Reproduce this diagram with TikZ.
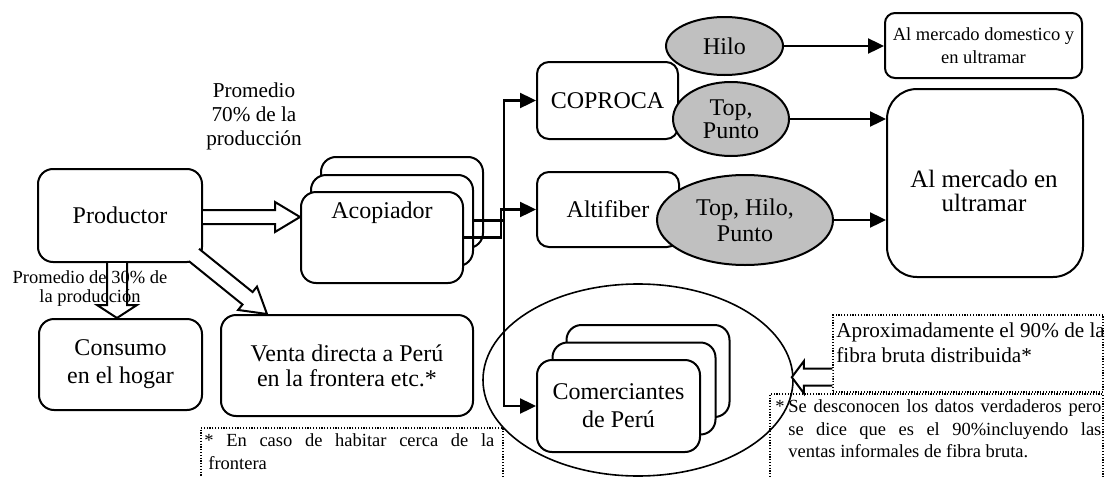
\documentclass[tikz,border=0pt]{standalone}
\usepackage{fontspec}
\setmainfont{Liberation Serif}
\usetikzlibrary{shapes.geometric,arrows.meta,calc}
\definecolor{elgray}{HTML}{C0C0C0}
\newcommand\fbig{\fontsize{12}{13.5}\selectfont}
\newcommand\fmid{\fontsize{10.6}{12}\selectfont}
\newcommand\fsmall{\fontsize{9.25}{11.5}\selectfont}
\newcommand\flbl{\fontsize{9.25}{9.5}\selectfont}
\newcommand\blockarr[5]{%
  \coordinate (ba-t) at (#1);
  \coordinate (ba-p) at (#2);
  \coordinate (ba-b) at ($(ba-p)!#5!(ba-t)$);
  \fill[white] ($(ba-t)!#3!90:(ba-p)$) -- ($(ba-b)!#3!90:(ba-p)$) -- ($(ba-b)!#4!90:(ba-p)$) -- (ba-p)
     -- ($(ba-b)!#4!-90:(ba-p)$) -- ($(ba-b)!#3!-90:(ba-p)$) -- ($(ba-t)!#3!-90:(ba-p)$) -- cycle;
  \draw[blk] ($(ba-t)!#3!90:(ba-p)$) -- ($(ba-b)!#3!90:(ba-p)$) -- ($(ba-b)!#4!90:(ba-p)$) -- (ba-p)
     -- ($(ba-b)!#4!-90:(ba-p)$) -- ($(ba-b)!#3!-90:(ba-p)$) -- ($(ba-t)!#3!-90:(ba-p)$);
}
\begin{document}
\begin{tikzpicture}[x=0.5pt,y=-0.5pt,
  rbox/.style={draw,line width=1pt,rounded corners=7.5pt,fill=white,inner sep=0pt,align=center,font=\fbig},
  gell/.style={ellipse,draw,line width=1pt,fill=elgray,inner sep=0pt,align=center,font=\fbig},
  conn/.style={line width=1.2pt,-{Triangle[length=8pt,width=7.5pt]}},
  plainconn/.style={line width=1.2pt},
  blk/.style={line width=1pt,line join=miter},
  dotbox/.style={draw,dash pattern=on 0.6pt off 0.8pt,line width=0.7pt,inner sep=0pt},
  lbl/.style={inner sep=0pt,align=center}]
\useasboundingbox (0,0) rectangle (1105,477);
\clip (0,0) rectangle (1105,477);

% big ellipse around Comerciantes
\node[ellipse,draw,line width=0.8pt,minimum width=155pt,minimum height=96pt,inner sep=0pt] (ell) at (638,380) {};

% Comerciantes stack
\node[rbox,minimum width=81.5pt,minimum height=46pt] (com3) at (648,371) {};
\node[rbox,minimum width=81.5pt,minimum height=46pt] (com2) at (634,388.5) {};
\node[rbox,minimum width=81.5pt,minimum height=46pt] (com1) at (618.5,406) {Comerciantes\\[0.5pt]de Perú};

% Acopiador stack
\node[rbox,minimum width=81pt,minimum height=45.5pt] (acop3) at (402,202.5) {};
\node[rbox,minimum width=81pt,minimum height=45.5pt] (acop2) at (392,220.5) {};
\node[rbox,minimum width=81pt,minimum height=45.5pt] (acop1) at (382,237.5) {};
\node[lbl,font=\fbig] (acoptxt) at (382,213) {Acopiador};

% main boxes
\node[rbox,minimum width=82pt,minimum height=46.5pt] (prod) at (120,215.5) {Productor};
\node[rbox,minimum width=81.5pt,minimum height=45.5pt,font=\fontsize{12}{14}\selectfont] (cons) at (120.5,364.5) {Consumo\\en el hogar};
\node[rbox,minimum width=126pt,minimum height=50.5pt,font=\fontsize{12}{12.5}\selectfont] (venta) at (347,365.5) {Venta directa a Perú\\en la frontera etc.*};
\node[rbox,rounded corners=6pt,minimum width=70.5pt,minimum height=38.5pt] (cop) at (607.5,100.5) {COPROCA};
\node[rbox,rounded corners=6pt,minimum width=71pt,minimum height=37.5pt] (alti) at (608,209.5) {Altifiber};
\node[rbox,rounded corners=5pt,minimum width=98.5pt,minimum height=32.5pt,font=\fsmall] (dom) at (983.5,45.5) {Al mercado domestico y\\en ultramar};
\node[rbox,rounded corners=15pt,minimum width=98pt,minimum height=94pt] (big) at (985,183) {};
\node[lbl,font=\fontsize{12.5}{12}\selectfont] (bigtxt) at (984,191) {Al mercado en\\ultramar};

% grey ellipses
\node[gell,minimum width=58.5pt,minimum height=29pt] (hilo) at (724.5,46) {Hilo};
\node[gell,minimum width=58pt,minimum height=37pt,font=\fontsize{12}{11.5}\selectfont] (tp) at (731,119) {Top,\\Punto};
\node[gell,minimum width=88pt,minimum height=45pt,font=\fontsize{12}{13}\selectfont] (thp) at (745,220) {Top, Hilo,\\Punto};

% connectors from Acopiador
\coordinate (tr) at ($(acop2.east -| cop.west)+(-32,0)$);
\draw[plainconn] (acop2.east) -- (tr);
\draw[conn] (tr) |- (cop.west);
\draw[conn] (tr) |- (com1.west);
\draw[conn] (acop1.east) -- ++(37,0) |- (alti.west);

% connectors to markets
\draw[conn] (hilo.east) -- (hilo.east -| dom.west);
\draw[conn] (tp.east) -- (tp.east -| big.west);
\draw[conn] (thp.east) -- (thp.east -| big.west);

% block arrows
\blockarr{$(prod.east)+(0,1.5)$}{$(prod.east -| acop1.west)+(0,1.5)$}{3.5pt}{7.5pt}{12.5pt}
\blockarr{$(prod.south)+(-3,0)$}{$(cons.north)+(-3.5,0)$}{5pt}{10pt}{6.5pt}
\blockarr{$(prod.south east)+(-9,-8)$}{$(venta.north west)+(47,0)$}{4pt}{7.5pt}{12.5pt}

% labels
\node[lbl,font=\fmid] (p70) at (254,116) {Promedio\\70\% de la\\producción};
\node[lbl,font=\flbl] (p30) at (90,289) {Promedio de 30\% de\\la producción};

% dotted note boxes
\node[dotbox,minimum width=135pt,minimum height=38.5pt] (box3) at (968,353.5) {};
\node[dotbox,minimum width=166.5pt,minimum height=53pt] (box2) at (936.5,447) {};
\node[dotbox,minimum width=151pt,minimum height=36pt] (box1) at (352,464) {};

\node[anchor=base west,inner sep=0pt,font=\fmid] (b3a) at (836,337) {Aproximadamente el 90\% de la};
\node[anchor=base west,inner sep=0pt,font=\fmid] (b3b) at (836,362) {fibra bruta distribuida*};

\node[anchor=base west,inner sep=0pt,font=\fsmall] (b2s) at (775,412) {*};
\node[anchor=base west,inner sep=0pt,font=\fsmall] (b2a) at (788,412) {\makebox[156.5pt][s]{Se desconocen los datos verdaderos pero}};
\node[anchor=base west,inner sep=0pt,font=\fsmall] (b2b) at (788,435) {\makebox[156.5pt][s]{se dice que es el 90\%incluyendo las}};
\node[anchor=base west,inner sep=0pt,font=\fsmall] (b2c) at (788,457) {ventas informales de fibra bruta.};

\node[anchor=base west,inner sep=0pt,font=\fsmall] (b1a) at (204,446) {\makebox[145pt][s]{* En caso de habitar cerca de la}};
\node[anchor=base west,inner sep=0pt,font=\fsmall] (b1b) at (208,469) {frontera};

% arrow from note to Comerciantes
\coordinate (rtail) at ($(box3.south west)+(0,-15.5)$);
\blockarr{rtail}{$(rtail -| ell.east)+(-2,0)$}{4.25pt}{8pt}{6pt}
\end{tikzpicture}
\end{document}
